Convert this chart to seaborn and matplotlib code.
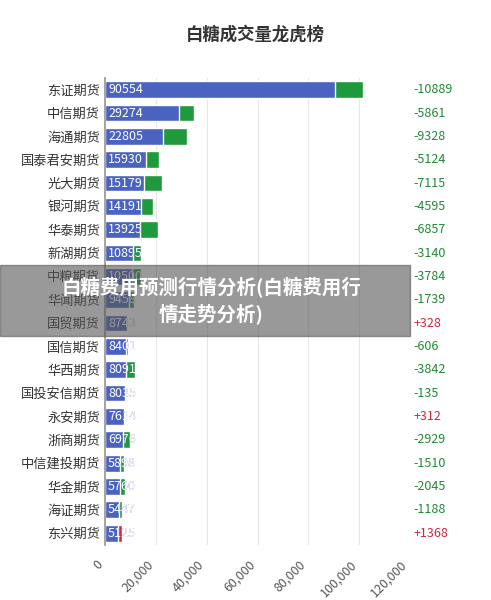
import matplotlib
matplotlib.use("Agg")
import matplotlib.pyplot as plt
import seaborn as sns
import pandas as pd

sns.set_theme(style="white")
plt.rcParams['font.family'] = ['Noto Sans CJK SC', 'DejaVu Sans']

brokers = ["东证期货","中信期货","海通期货","国泰君安期货","光大期货","银河期货","华泰期货","新湖期货",
           "中粮期货","华闻期货","国贸期货","国信期货","华西期货","国投安信期货","永安期货","浙商期货",
           "中信建投期货","华金期货","海证期货","东兴期货"]
volume = [90554,29274,22805,15930,15179,14191,13925,10895,10500,9458,8743,8401,8091,8035,7614,6976,5898,5760,5447,5125]
change = [-10889,-5861,-9328,-5124,-7115,-4595,-6857,-3140,-3784,-1739,328,-606,-3842,-135,312,-2929,-1510,-2045,-1188,1368]

df = pd.DataFrame({"broker": brokers, "volume": volume, "change": change})
df["total"] = df["volume"] + df["change"].abs()
df["sign"] = ["pos" if c > 0 else "neg" for c in change]

fig = plt.figure(figsize=(4.91, 6), dpi=100)
ax = fig.add_axes([0.214, 0.092, 0.621, 0.778])
sns.barplot(data=df, y="broker", x="total", hue="sign", palette={"neg": "#1e9a3c", "pos": "#d0293b"},
            dodge=False, width=0.72, legend=False, ax=ax, saturation=1)
n0 = len(ax.patches)
sns.barplot(data=df, y="broker", x="volume", color="#4b63c0", width=0.72, ax=ax, saturation=1)
blue_bars = ax.patches[n0:]

ax.set_xlim(0, 120000)
ax.set_xticks(range(0, 120001, 20000))
ax.set_xticklabels([f"{v:,}" for v in range(0, 120001, 20000)], rotation=45, ha="right",
                   fontsize=9, color="#555555")
ax.tick_params(axis="y", labelsize=9.5, colors="#333333", length=0)
ax.set_xlabel("")
ax.set_ylabel("")
for s in ["top", "right", "bottom"]:
    ax.spines[s].set_visible(False)
ax.spines["left"].set_color("#999999")
ax.grid(axis="x", color="#e6e6e6", lw=0.8)
ax.set_axisbelow(True)

for i, (v, c) in enumerate(zip(volume, change)):
    ax.text(1200, i, f"{v}", color="#4b63c0", va="center", ha="left", fontsize=9)
    t = ax.text(1200, i, f"{v}", color="white", va="center", ha="left", fontsize=9)
    t.set_clip_path(blue_bars[i])
    lab = f"+{c}" if c > 0 else f"{c}"
    ax.text(1.01, i, lab, transform=ax.get_yaxis_transform(), va="center", ha="left",
            fontsize=9, color="#d0293b" if c > 0 else "#1e8a34")

fig.text(0.52, 0.943, "白糖成交量龙虎榜", ha="center", va="center", fontsize=12.5,
         color="#333333", fontweight="bold")

fig.patches.append(plt.Rectangle((0.0, 0.44), 0.835, 0.118, transform=fig.transFigure,
                                 color="#555555", alpha=0.6, zorder=5))
fig.text(0.43, 0.499, "白糖费用预测行情分析(白糖费用行\n情走势分析)", ha="center", va="center",
         fontsize=14, color="white", fontweight="bold", zorder=6, linespacing=1.3)

fig.savefig("out.png", dpi=100)
